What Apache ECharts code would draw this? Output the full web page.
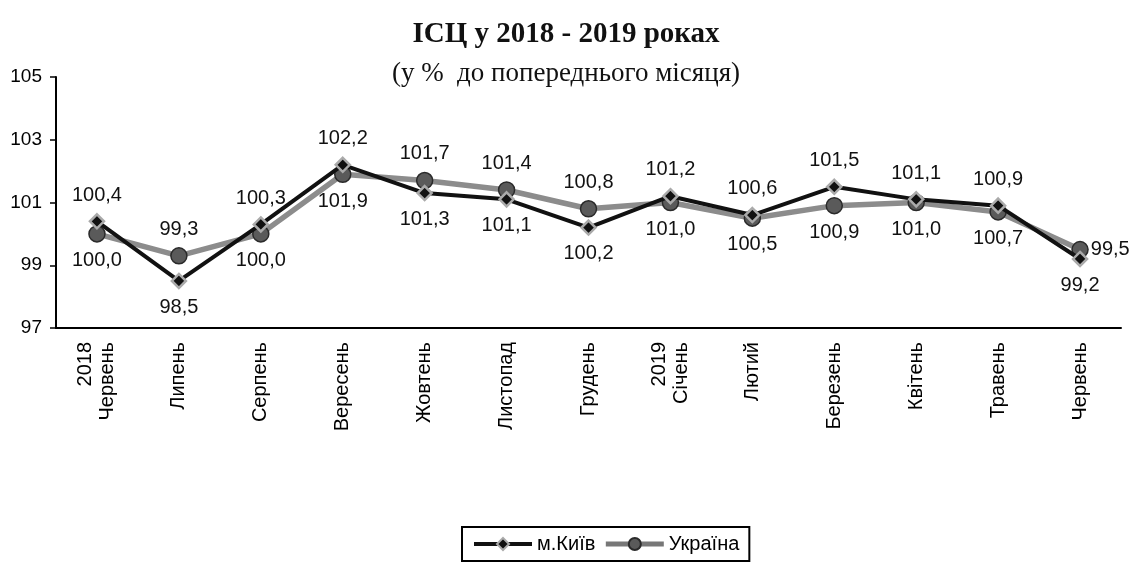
<!DOCTYPE html>
<html lang="uk">
<head>
    <meta charset="UTF-8">
    <title>ІСЦ у 2018 - 2019 роках</title>
    <script src="https://cdn.jsdelivr.net/npm/echarts@6/dist/echarts.min.js"></script>
    <style>
        html,body{margin:0;padding:0;background:#fff;}
        #chart{width:1132px;height:565px;}
    </style>
</head>
<body>
<div id="chart"></div>
<script>
    var months = ['2018\nЧервень','Липень','Серпень','Вересень','Жовтень','Листопад','Грудень',
                  '2019\nСічень','Лютий','Березень','Квітень','Травень','Червень'];
    var kyiv    = [100.4, 98.5, 100.3, 102.2, 101.3, 101.1, 100.2, 101.2, 100.6, 101.5, 101.1, 100.9, 99.2];
    var ukraine = [100.0, 99.3, 100.0, 101.9, 101.7, 101.4, 100.8, 101.0, 100.5, 100.9, 101.0, 100.7, 99.5];
    // де стоїть підпис: t - зверху, b - знизу, r - праворуч
    var kyivPos    = ['t','b','t','t','b','b','b','t','t','t','t','t','b'];
    var ukrainePos = ['b','t','b','b','t','t','t','b','b','b','b','b','r'];

    var posMap = {t:'top', b:'bottom', r:'right'};
    function withLabels(vals, pos){
        return vals.map(function(v, i){
            var lab = {position: posMap[pos[i]]};
            if(pos[i] === 'r') lab.distance = 2;
            return {value: v, label: lab};
        });
    }
    function fmt(p){ return p.value.toFixed(1).replace('.', ','); }

    var myChart = echarts.init(document.getElementById('chart'));
    var option = {
        animation: false,
        title: {
            text: 'ІСЦ у 2018 - 2019 роках',
            subtext: '(у %  до попереднього місяця)',
            left: 'center',
            top: 15,
            itemGap: 11,
            textStyle: {fontFamily: 'Liberation Serif', fontWeight: 'bold', fontSize: 29, color: '#111'},
            subtextStyle: {fontFamily: 'Liberation Serif', fontSize: 27, color: '#111'}
        },
        legend: {
            data: [
                {name: 'м.Київ', lineStyle: {width: 4, color: '#111'}},
                {name: 'Україна', lineStyle: {width: 5, color: '#777'}}
            ],
            bottom: 4,
            left: 462,
            itemWidth: 58,
            itemHeight: 15,
            itemGap: 8,
            padding: [7, 10],
            borderColor: '#000',
            borderWidth: 2,
            textStyle: {fontFamily: 'Liberation Sans', fontSize: 20, color: '#000'}
        },
        grid: {left: 56, right: 11, top: 77, bottom: 237},
        xAxis: [{
            type: 'category',
            data: months,
            boundaryGap: true,
            axisLine: {lineStyle: {color: '#000', width: 2}},
            axisTick: {length: 6, lineStyle: {color: '#000', width: 1.5}},
            axisLabel: {rotate: 90, interval: 0, margin: 14, fontFamily: 'Liberation Sans',
                fontSize: 20, color: '#000', lineHeight: 22}
        }, {
            type: 'category',
            data: months,
            position: 'bottom',
            boundaryGap: true,
            axisLine: {show: false},
            axisTick: {alignWithLabel: true, length: 6, lineStyle: {color: '#000', width: 1.5}},
            axisLabel: {show: false}
        }],
        yAxis: {
            type: 'value',
            min: 97,
            max: 105,
            interval: 2,
            splitLine: {show: false},
            axisLine: {show: true, lineStyle: {color: '#000', width: 2}},
            axisTick: {show: true, length: 6, lineStyle: {color: '#000', width: 1.5}},
            axisLabel: {fontFamily: 'Liberation Sans', fontSize: 19, color: '#000', margin: 14}
        },
        series: [{
            name: 'Україна',
            type: 'line',
            data: withLabels(ukraine, ukrainePos),
            symbol: 'circle',
            symbolSize: 16,
            lineStyle: {color: '#8c8c8c', width: 5.5},
            itemStyle: {color: '#5a5a5a', borderColor: '#2a2a2a', borderWidth: 1.5},
            label: {show: true, formatter: fmt, distance: 8, fontFamily: 'Liberation Sans',
                fontSize: 20, color: '#111'},
            z: 2
        }, {
            name: 'м.Київ',
            type: 'line',
            data: withLabels(kyiv, kyivPos),
            symbol: 'diamond',
            symbolSize: 14,
            lineStyle: {color: '#111', width: 4},
            itemStyle: {color: '#111', borderColor: '#aaa', borderWidth: 2.5},
            label: {show: true, formatter: fmt, distance: 8, fontFamily: 'Liberation Sans',
                fontSize: 20, color: '#111'},
            z: 3
        }]
    };
    myChart.setOption(option);
</script>
</body>
</html>
